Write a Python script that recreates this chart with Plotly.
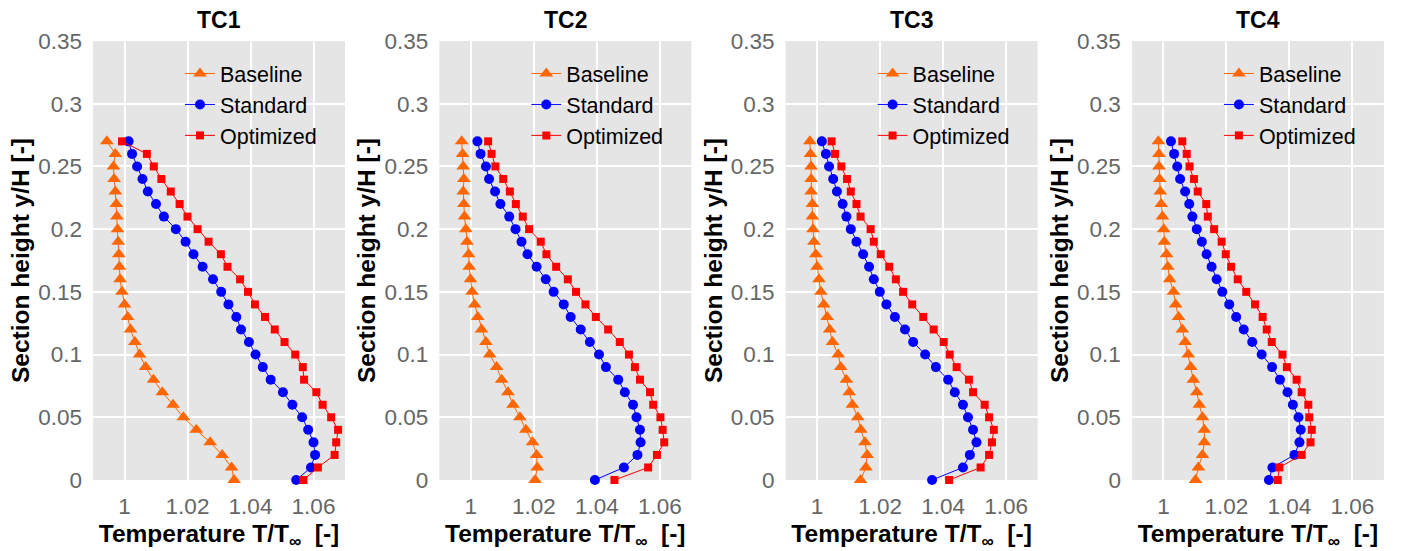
import plotly.graph_objects as go

# ---------------- data ----------------
panel_titles = ["TC1", "TC2", "TC3", "TC4"]
series_names = ["Baseline", "Standard", "Optimized"]
y_height = [0.00, 0.01, 0.02, 0.03, 0.04, 0.05, 0.06, 0.07, 0.08, 0.09,
            0.10, 0.11, 0.12, 0.13, 0.14, 0.15, 0.16, 0.17, 0.18, 0.19,
            0.20, 0.21, 0.22, 0.23, 0.24, 0.25, 0.26, 0.27]

# values listed from y=0.00 upward to y=0.27
tc1_baseline = [1.0348, 1.0340, 1.0310, 1.0272, 1.0228, 1.0187, 1.0154, 1.0120, 1.0092, 1.0067,
                1.0048, 1.0033, 1.0019, 1.0010, 1.0000, 0.9992, 0.9986, 0.9984, 0.9982, 0.9980,
                0.9978, 0.9976, 0.9974, 0.9971, 0.9967, 0.9965, 0.9971, 0.9944]
tc1_standard = [1.0545, 1.0592, 1.0605, 1.0600, 1.0583, 1.0564, 1.0533, 1.0503, 1.0464, 1.0439,
                1.0416, 1.0395, 1.0370, 1.0355, 1.0330, 1.0307, 1.0281, 1.0248, 1.0219, 1.0194,
                1.0163, 1.0125, 1.0100, 1.0074, 1.0057, 1.0040, 1.0024, 1.0013]
tc1_optimized = [1.0568, 1.0614, 1.0667, 1.0672, 1.0678, 1.0656, 1.0629, 1.0609, 1.0570, 1.0566,
                 1.0542, 1.0508, 1.0477, 1.0446, 1.0414, 1.0392, 1.0367, 1.0327, 1.0306, 1.0267,
                 1.0232, 1.0200, 1.0175, 1.0147, 1.0117, 1.0093, 1.0071, 0.9992]

tc2_baseline = [1.0204, 1.0211, 1.0209, 1.0196, 1.0175, 1.0156, 1.0134, 1.0118, 1.0098, 1.0082,
                1.0060, 1.0048, 1.0034, 1.0022, 1.0012, 1.0004, 0.9999, 0.9995, 0.9993, 0.9988,
                0.9984, 0.9980, 0.9978, 0.9976, 0.9978, 0.9976, 0.9974, 0.9971]
tc2_standard = [1.0394, 1.0486, 1.0529, 1.0539, 1.0537, 1.0526, 1.0515, 1.0489, 1.0468, 1.0429,
                1.0407, 1.0378, 1.0349, 1.0317, 1.0295, 1.0263, 1.0238, 1.0209, 1.0180, 1.0161,
                1.0142, 1.0122, 1.0094, 1.0077, 1.0058, 1.0048, 1.0031, 1.0021]
tc2_optimized = [1.0456, 1.0563, 1.0591, 1.0614, 1.0609, 1.0602, 1.0579, 1.0569, 1.0537, 1.0521,
                 1.0502, 1.0473, 1.0436, 1.0397, 1.0364, 1.0334, 1.0308, 1.0271, 1.0240, 1.0222,
                 1.0185, 1.0165, 1.0143, 1.0124, 1.0103, 1.0078, 1.0066, 1.0055]

tc3_baseline = [1.0138, 1.0155, 1.0159, 1.0152, 1.0139, 1.0129, 1.0112, 1.0102, 1.0093, 1.0075,
                1.0067, 1.0049, 1.0040, 1.0032, 1.0021, 1.0012, 1.0006, 1.0000, 0.9996, 0.9990,
                0.9987, 0.9985, 0.9985, 0.9981, 0.9981, 0.9981, 0.9979, 0.9977]
tc3_standard = [1.0365, 1.0463, 1.0485, 1.0506, 1.0495, 1.0479, 1.0463, 1.0437, 1.0416, 1.0377,
                1.0343, 1.0305, 1.0279, 1.0247, 1.0220, 1.0199, 1.0180, 1.0165, 1.0146, 1.0125,
                1.0107, 1.0093, 1.0081, 1.0063, 1.0051, 1.0038, 1.0028, 1.0015]
tc3_optimized = [1.0419, 1.0519, 1.0546, 1.0555, 1.0561, 1.0546, 1.0532, 1.0495, 1.0482, 1.0443,
                 1.0421, 1.0402, 1.0370, 1.0337, 1.0302, 1.0273, 1.0250, 1.0229, 1.0202, 1.0180,
                 1.0170, 1.0138, 1.0125, 1.0107, 1.0095, 1.0077, 1.0057, 1.0046]

tc4_baseline = [1.0102, 1.0111, 1.0124, 1.0130, 1.0130, 1.0124, 1.0114, 1.0106, 1.0095, 1.0087,
                1.0079, 1.0069, 1.0060, 1.0048, 1.0039, 1.0032, 1.0020, 1.0014, 1.0010, 1.0003,
                1.0001, 0.9997, 0.9993, 0.9990, 0.9988, 0.9986, 0.9986, 0.9984]
tc4_standard = [1.0335, 1.0346, 1.0416, 1.0432, 1.0436, 1.0429, 1.0411, 1.0394, 1.0370, 1.0345,
                1.0312, 1.0282, 1.0255, 1.0231, 1.0209, 1.0187, 1.0169, 1.0153, 1.0137, 1.0122,
                1.0106, 1.0092, 1.0082, 1.0069, 1.0053, 1.0044, 1.0034, 1.0024]
tc4_optimized = [1.0363, 1.0368, 1.0439, 1.0467, 1.0471, 1.0463, 1.0460, 1.0439, 1.0423, 1.0392,
                 1.0378, 1.0344, 1.0328, 1.0315, 1.0291, 1.0263, 1.0236, 1.0215, 1.0198, 1.0185,
                 1.0161, 1.0141, 1.0136, 1.0109, 1.0097, 1.0083, 1.0074, 1.0060]

x_tickvals = [1.00, 1.02, 1.04, 1.06]
x_ticktext = ["1", "1.02", "1.04", "1.06"]
y_tickvals = [0, 0.05, 0.10, 0.15, 0.20, 0.25, 0.30, 0.35]
y_ticktext = ["0", "0.05", "0.1", "0.15", "0.2", "0.25", "0.3", "0.35"]

panels = [
    [tc1_baseline, tc1_standard, tc1_optimized],
    [tc2_baseline, tc2_standard, tc2_optimized],
    [tc3_baseline, tc3_standard, tc3_optimized],
    [tc4_baseline, tc4_standard, tc4_optimized],
]

# ---------------- style ----------------
W, H = 1404, 551
colors = ["#FF6600", "#0000FF", "#FF0000"]
symbols = ["triangle-up", "circle", "square"]
msizes = [12, 10, 8]
FONT = "Liberation Sans, Arial, sans-serif"

plot_left0 = 93
plot_w = 252
step = 346.3
plot_top = 41
plot_bot = 480

fig = go.Figure()
layout = dict(
    width=W, height=H,
    margin=dict(l=0, r=0, t=0, b=0, autoexpand=False),
    paper_bgcolor="white", plot_bgcolor="#E5E5E5",
    font=dict(family=FONT, size=22, color="#666666"),
    annotations=[],
)

ydom = [(H - plot_bot) / H, (H - plot_top) / H]

for k, data in enumerate(panels):
    ax = "" if k == 0 else str(k + 1)
    lg = "legend" if k == 0 else "legend%d" % (k + 1)
    left = plot_left0 + k * step
    xdom = [left / W, (left + plot_w) / W]
    for s, vals in enumerate(data):
        fig.add_trace(go.Scatter(
            x=vals, y=y_height, mode="lines+markers",
            name=series_names[s],
            line=dict(color=colors[s], width=1),
            marker=dict(symbol=symbols[s], size=msizes[s], color=colors[s]),
            xaxis="x" + ax, yaxis="y" + ax, legend=lg,
            cliponaxis=False,
        ))
    layout["xaxis" + ax] = dict(
        domain=xdom, range=[0.99, 1.07], anchor="y" + ax,
        tickvals=x_tickvals, ticktext=x_ticktext,
        showgrid=True, gridcolor="white", gridwidth=2,
        zeroline=False, showline=False, ticks="",
        ticklabelstandoff=10,
        tickfont=dict(size=22.5, color="#666666"),
        title=dict(text="Temperature T/T<sub>∞</sub>  [-]", standoff=7,
                   font=dict(size=24.5, color="black", family=FONT, weight="bold")),
    )
    layout["yaxis" + ax] = dict(
        domain=ydom, range=[0, 0.35], anchor="x" + ax,
        tickvals=y_tickvals, ticktext=y_ticktext,
        showgrid=True, gridcolor="white", gridwidth=2,
        zeroline=False, showline=False, ticks="",
        ticklabelstandoff=10,
        tickfont=dict(size=22.5, color="#666666"),
        title=dict(text="Section height y/H [-]", standoff=1,
                   font=dict(size=24.5, color="black", family=FONT, weight="bold")),
    )
    layout[lg] = dict(
        x=(left + 87) / W, xanchor="left",
        y=(H - 53) / H, yanchor="top",
        bgcolor="rgba(0,0,0,0)", borderwidth=0,
        font=dict(size=21.5, color="black", family=FONT),
        tracegroupgap=0, itemsizing="trace",
    )
    layout["annotations"].append(dict(
        text="<b>%s</b>" % panel_titles[k], x=(left + plot_w / 2) / W, y=(H - 20) / H,
        xref="paper", yref="paper", showarrow=False, xanchor="center", yanchor="middle",
        font=dict(size=23, color="black", family=FONT),
    ))

fig.update_layout(**layout)
fig.write_html("out.html")
